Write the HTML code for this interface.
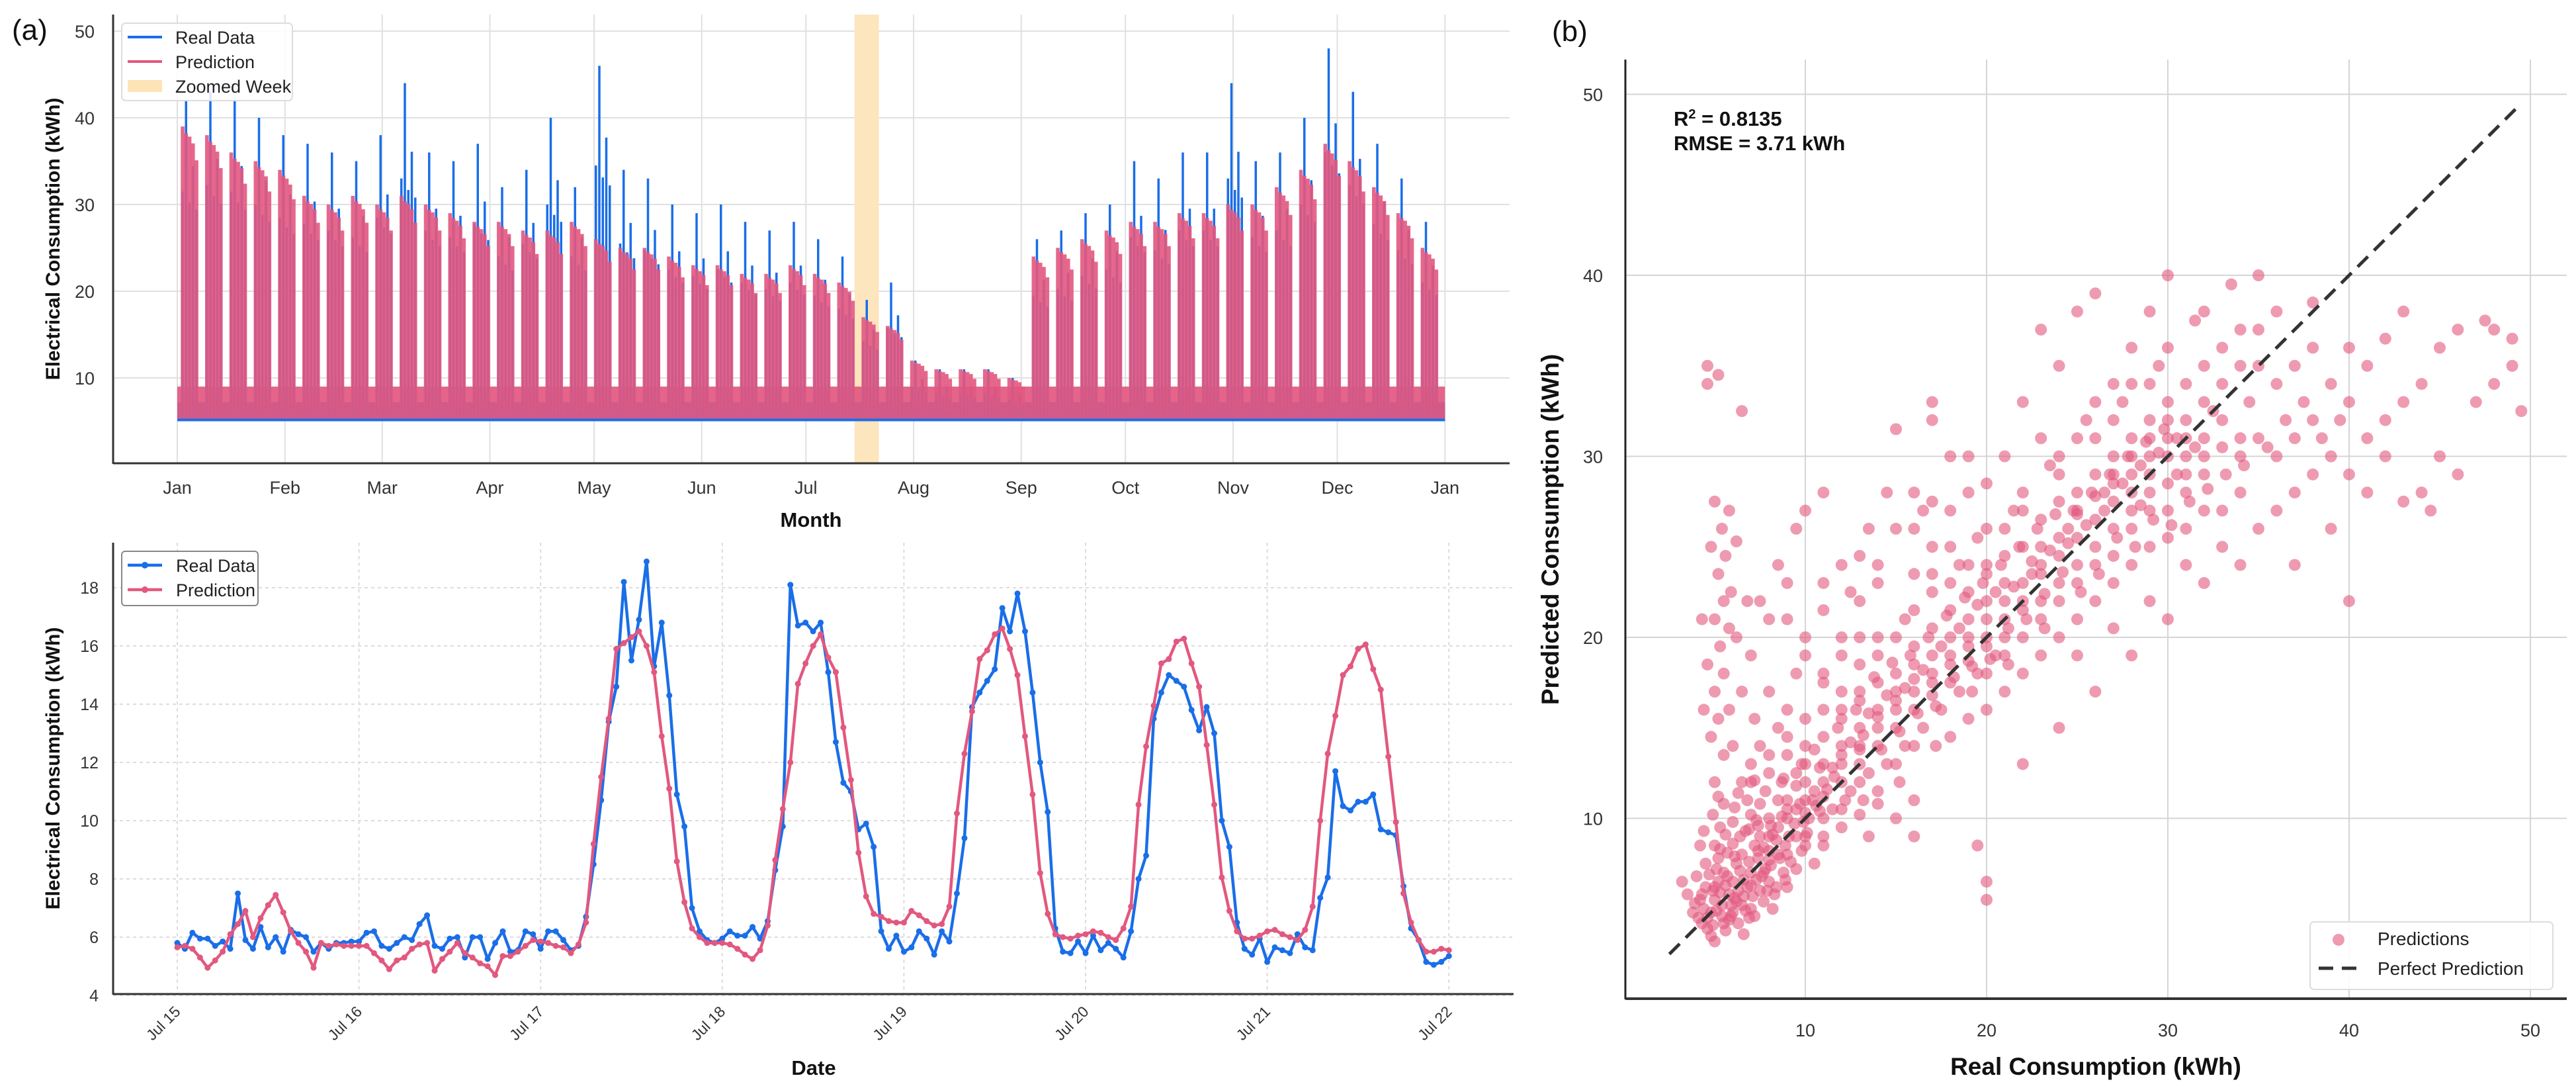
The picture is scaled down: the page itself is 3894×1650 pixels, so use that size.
<!DOCTYPE html>
<html><head><meta charset="utf-8"><style>
html,body{margin:0;padding:0;background:#fff;}
svg{display:block;font-family:"Liberation Sans",Arial,sans-serif;}
</style></head><body>
<svg id="fig" xmlns="http://www.w3.org/2000/svg" width="3894" height="1650" viewBox="0 0 3894 1650">
<rect x="0" y="0" width="3894" height="1650" fill="#fff"/>
<text x="18" y="60" font-size="44" fill="#111">(a)</text>
<text x="2346" y="62" font-size="44" fill="#111">(b)</text>
<g id="gTop"></g>
<g id="gBot"></g>
<g id="gSc"></g>
</svg>
<script>
// ===== Top panel data (weekly peaks, kWh) =====
const monthLabels=["Jan","Feb","Mar","Apr","May","Jun","Jul","Aug","Sep","Oct","Nov","Dec","Jan"];
const monthStartDays=[0,31,59,90,120,151,181,212,243,273,304,334,365];
const topYTicks=[10,20,30,40,50];
const weeklyPredPeak=[39,38,36,35,34,31,30,31,30,31,30,29,28,28,27,27,28,26,25,25,24,23,23,22,22,23,22,21,17,16,12,11,11,11,10,24,25,26,27,28,28,29,29,30,30,32,34,37,35,32,29,25];
const weeklyRealPeak=[42,43,42,40,38,37,36,35,38,44,36,35,37,32,34,40,32,46,34,33,30,29,30,28,27,28,26,24,19,21,12,11,11,11,10,26,27,29,30,35,33,36,36,44,35,36,40,48,43,37,33,28];
const predDayFactor=[1.0,0.98,0.97,0.95,0.9];
const realDayFactor=[0.75,1.0,0.72,0.82,0.7];
const zoomWeek=[195,202];
// ===== Week panel data (hourly kWh, Jul 15 00:00 .. Jul 22 00:00) =====
const weekDayLabels=["Jul 15","Jul 16","Jul 17","Jul 18","Jul 19","Jul 20","Jul 21","Jul 22"];
const weekYTicks=[4,6,8,10,12,14,16,18];
const weekReal=[
5.8,5.6,6.15,5.95,5.95,5.7,5.85,5.6,7.5,5.9,5.6,6.35,5.65,6.0,5.5,6.25,6.1,6.0,5.5,5.8,5.6,5.8,5.8,5.85,
5.85,6.15,6.2,5.7,5.6,5.8,6.0,5.9,6.45,6.75,5.7,5.6,5.95,6.0,5.3,6.0,6.0,5.25,5.8,6.2,5.5,5.55,6.2,6.1,
5.6,6.2,6.2,5.9,5.55,5.7,6.7,8.5,10.7,13.4,14.6,18.2,15.5,16.9,18.9,15.3,16.8,14.3,10.9,9.8,7.0,6.2,5.9,5.8,
5.95,6.2,6.05,6.05,6.35,5.95,6.55,8.3,9.8,18.1,16.7,16.8,16.5,16.8,15.1,12.7,11.3,11.0,9.7,9.9,9.1,6.2,5.6,6.05,
5.5,5.65,6.2,5.95,5.4,6.2,5.85,7.5,9.4,13.9,14.4,14.8,15.2,17.3,16.5,17.8,16.5,14.4,12.0,10.3,6.3,5.5,5.45,5.85,
5.45,6.05,5.55,5.8,5.6,5.3,6.2,8.0,8.8,13.5,14.4,15.0,14.8,14.6,13.8,13.1,13.9,13.0,10.0,9.1,6.5,5.6,5.4,5.95,
5.15,5.65,5.55,5.45,6.1,5.65,5.55,7.35,8.05,11.7,10.5,10.35,10.65,10.65,10.9,9.7,9.6,9.5,7.75,6.3,5.9,5.15,5.05,5.15,
5.35];
const weekPred=[
5.65,5.7,5.6,5.3,4.95,5.2,5.5,6.1,6.45,6.9,6.0,6.65,7.1,7.45,6.85,6.2,5.8,5.5,4.95,5.8,5.7,5.75,5.7,5.7,
5.7,5.7,5.45,5.2,4.9,5.2,5.3,5.6,5.75,5.8,4.85,5.25,5.5,5.8,5.45,5.3,5.1,5.0,4.7,5.35,5.35,5.5,5.7,5.9,
5.85,5.8,5.7,5.65,5.45,5.75,6.5,9.2,11.5,13.5,15.9,16.1,16.3,16.5,16.0,15.1,12.9,11.1,8.6,7.2,6.3,6.0,5.8,5.8,
5.8,5.75,5.6,5.4,5.25,5.55,6.4,8.65,10.4,12.0,14.7,15.4,16.0,16.4,15.6,15.1,13.2,11.4,8.9,7.4,6.8,6.7,6.55,6.5,
6.5,6.9,6.75,6.55,6.4,6.45,7.05,10.25,12.3,13.75,15.55,15.85,16.4,16.6,15.9,15.0,12.9,10.9,8.2,6.8,6.1,6.0,5.95,6.05,
6.1,6.2,6.15,6.0,5.9,6.3,7.05,10.55,12.55,13.95,15.4,15.55,16.15,16.25,15.4,14.6,12.6,10.55,8.05,6.9,6.2,5.95,5.95,6.05,
6.2,6.25,6.1,6.0,5.9,6.25,7.05,10.0,12.3,13.6,15.0,15.3,15.9,16.05,15.2,14.5,12.2,9.95,7.5,6.5,5.9,5.5,5.5,5.6,
5.55];
// ===== Scatter data (real, predicted) =====
const scTicks=[10,20,30,40,50];
const scPairs=[[4.2,5.5],[4.5,6.2],[4.8,4.8],[5,5.5],[5.2,6.5],[5.5,4.2],[5.5,7],[5.8,5.8],[6,6.5],[6,4.8],[6.2,7.5],[6.5,5.2],[6.5,8],[6.8,6.2],[7,7],[7,5],[7.2,8.5],[7.5,6],[7.5,9],[7.8,7.2],[8,6.5],[8,8.2],[8.3,5.8],[8.5,9.5],[8.8,7],[9,8],[9,6.2],[9.5,9],[4.5,7.5],[5,8.5],[5.3,9.5],[4.8,3.5],[5.6,3.8],[6.3,4.2],[7.2,4.6],[8.2,5],[9.5,7.2],[10,8.5],[10.5,7.5],[11,9],[6,9.8],[7,10.2],[8,10],[9,10.5],[6.8,11],[5.5,10.8],[4.6,4.5],[5.1,4.9],[5.9,5.2],[6.6,5.7],[7.3,6.6],[7.9,6],[8.6,7.8],[4,6.8],[3.5,5.8],[3.2,6.5],[4.2,8.5],[5,3.2],[9.8,8.2],[10.2,10],
[4.4,5],[4.9,6],[5.4,5.2],[5.7,6.8],[6.1,5.6],[6.4,7.1],[6.9,4.5],[7.4,7.8],[7.7,5.4],[8.1,7.4],[8.4,8.8],[8.9,6.6],[5.2,7.8],[6,8.6],[6.7,9.3],[7.4,9.6],[4.3,4.2],[5.8,4.4],[3.8,4.8],[6.6,3.6],
[5,12],[5.5,13.5],[4.8,14.5],[5.2,15.5],[5.8,16],[5,17],[5.5,18],[4.6,18.5],[5.3,19.5],[5.8,20.5],[5,21],[5.5,22],[5.9,22.5],[5.2,23.5],[5.6,24.5],[4.8,25],[5.4,26],[5.8,27],[5,27.5],[4.6,34],[4.6,35],[5.2,34.5],[6.5,32.5],[6.2,25.3],[6.8,22],[7,19],[6.5,17],[7.2,15.5],[4.3,21],[4.4,16],[6,14],[6.2,20],
[10,10.3],[11,10],[12,10.5],[13,10.2],[14,10.8],[15,10],[16,11],[12,9.5],[13.5,9],
[9,11],[9.5,12.5],[10,13],[10,9],[10.5,11.5],[11,12],[11,14.5],[11.5,10.5],[12,13],[12,15.5],[12.5,11.5],[13,14],[13,16.5],[13.5,12.5],[14,15],[14,17.5],[14.5,13],[15,16],[15,18],[15.5,14],[16,17],[16,19.5],[16.5,15],[17,18],[17,20.5],[17.5,16],[18,19],[18,21.5],[18.5,17],[19,20],[19,22.5],[19.5,18],[20,21],[20,23.5],[20,16],[11,8.5],[12,20],[13,22],[14,24],[15,26],[16,28],[17,25],[18,27],[19,30],[20,26],[12.5,22.5],[10,20],[9,21],[11,23],[15,31.5],[17,32],[20,5.5],[20,6.5],[19.5,8.5],[16,9],[15,13],[13,12],[14,11.5],[16,14],[18,14.5],[19,15.5],[20,18],[17,22.5],[16,23.5],[14,20],[13,18.5],[12,17],[11,16],[10,15.5],[18.5,24],[19.5,25.5],[13.5,26],[14.5,28],[16.5,27],[18,30],[15.5,21],
[21,20],[21,23],[21,17],[22,21.5],[22,25],[22,18],[23,22],[23,26.5],[23,19],[24,23],[24,27.5],[24,20],[25,24],[25,28],[25,21],[26,25],[26,29],[26,22],[27,26],[27,30],[27,23],[28,27],[28,31],[28,24],[29,28],[29,32],[29,25],[30,28.5],[30,33],[30,25.5],[31,29],[31,34],[31,26],[32,30],[32,35],[32,27],[33,30.5],[33,36],[33,27],[34,31],[34,37],[34,28],[35,31],[35,35],[35,26],[21,30],[22,33],[23,37],[24,35],[25,38],[26,39],[27,34],[28,36],[29,38],[30,40],[24,15],[26,17],[28,19],[30,21],[32,23],[34,24],[22,13],[25,19],[27,20.5],[29,22],[31,24],[33,25],[21.5,27],[23.5,29.5],[25.5,32],[27.5,33],[29.5,35],[31.5,37.5],[33.5,39.5],[35,40],[20.5,19],[22.5,23.5],[24.5,26],[26.5,27],[28.5,29.5],[30.5,31],[32.5,32.5],[34.5,33],
[36,30],[36,34],[36,27],[37,31],[37,35],[37,28],[38,32],[38,36],[38,29],[39,30],[39,34],[40,33],[40,36],[40,29],[41,31],[41,35],[42,32],[42,36.5],[43,33],[43,38],[44,28],[44,34],[45,36],[45,30],[46,37],[47,33],[48,37],[49,35],[49.5,32.5],[49,36.5],[43,27.5],[41,28],[40,22],[39,26],[37,24],[44.5,27],[42,30],[36,38],[38,38.5],[46,29],[47.5,37.5],[48,34],
[15,17],[16,16],[17,17.5],[18,18.5],[19,19.5],[20,20],[21,21],[22,22],[23,23.5],[24,24.5],[25,25.5],[26,26.5],[27,27.5],[28,28],[29,29],[30,30],[21,19],[22,20],[23,21],[24,22],[25,23],[26,24],[27,24.5],[28,26],[29,27],[30,27],[31,28],[32,29],[16,18.5],[17,19],[18,20],[19,21],[20,22],[14,16],[13,15],[12,14],[11,13],[10,12],[9,10],[8,9],[12,12],[13,13],[14,14],[15,15],[10,11],[11,11.2],[9.5,10.5],[8.5,11],[7.5,10.8],[6.5,12],[7,13],[8,12.5],[9,13.5],[7.5,14],[8.5,15],[9,16],[8,17],[9.5,18],[10,19],[11,18],[12,19],[13,20],[11,21.5],[12,24],[9,23],[8,21],[7.5,22],[8.5,24],[10,27],[9.5,26],[11,28],[17,33],[13,24.5],[14,23],[16,26],[17,27.5],[18,25],[19,28],[20,28.5],[21,26],[22,28],[23,31],[24,30],[25,31],[26,33],[27,32],[28,34],[29,31],[30,36],[31,32],[32,38],[33,34],[34,35],[35,37],[32,33],[31,31],[30,32],[28,30],[29,34],[27,29],[26,31],[25,27],[24,29],[23,25],[22,27],[21,24.5],[20,24],[19,24],[18,23],[17,23.5],[16,21.5],[15,20],[14,19],[13,17],[12,16],[11,17.5],[10,14],[9,14.5],[8,13.5],[7,12],
[12.5,14.2],[13.5,15.8],[14.5,16.8],[15.5,17.2],[16.5,18.2],[17.5,19.5],[18.5,20.5],[19.5,21.8],[20.5,22.5],[21.5,22.8],[22.5,24.2],[23.5,24.8],[24.5,25.2],[25.5,26.2],[26.5,28],[27.5,28.5],[28.5,27.3],[29.5,30.2],[30.5,29],[31.5,30.5],[11.5,12.8],[10.5,13.8],[9.5,11.8],[8.8,12.2],[13.2,11],[15.2,12],[17.2,14],[19.2,17],[21.2,18.5],[23.2,20.5],
[4.1,4.5],[4.3,5.8],[4.7,6.9],[4.9,4.1],[5.1,7.2],[5.3,5.9],[5.6,6.3],[5.7,8.1],[5.9,4.6],[6.1,7.9],[6.3,6],[6.4,9],[6.7,4.9],[6.9,7.6],[7.1,5.7],[7.3,9.9],[7.6,6.8],[7.7,8.4],[8,7.7],[8.2,9.1],[8.4,6.2],[8.7,10.1],[8.9,8.5],[9.2,7.6],[9.4,9.7],[9.7,10.8],[10.1,9.2],[10.4,11],[10.8,10.4],[11.2,11.6],[11.6,12.3],[12.2,11],[4.4,9.3],[4.9,10.2],[5.6,9.1],[6.1,10.6],[6.9,9.4],[7.8,11.5],[8.7,12],[3.9,5.3],[4.6,3.9],[5.4,4.6],[6.2,5.4],[7,6.3],[7.7,7],[8.5,8],[9.1,9],[9.9,9.8],[10.6,10.7],[5,6.2],[5.3,8.3],[6.6,6.6],[7.4,8.2],[8.1,9.6],[6.3,11.4],[7.2,12.1],[5.2,11.2],
[12,13.5],[13,13.8],[14,15.6],[15,16.5],[16,17.7],[17,16.8],[18,17.5],[19,18.7],[20,19.5],[21,22],[22,23],[23,24],[24,25.5],[25,26.8],[26,27.8],[27,28.5],[28,29],[29,30],[30,31],[31,30],[32,31],[33,32],[34,30],[12.8,16],[13.8,17.8],[14.8,18.6],[15.8,19],[16.8,20],[17.8,21.2],[18.8,22.2],[19.8,23],[20.8,24],[21.8,25],[22.8,26],[23.8,26.8],[24.8,27],[25.8,28],[26.8,29],[27.8,30],[28.8,30.8],[29.8,31.5],[11.8,15],[10.8,12.8],[9.8,13],[13.2,14.6],[14.2,13.8],[15.2,14.8],[16.2,15.8],[17.2,16.2],[18.2,17.8],[19.2,18.4],[20.2,18.8],[21.2,20.5],[22.2,21],[23.2,22.4],[24.2,23.6],[25.2,22.5],[26.2,23.5],[27.2,25.5],[28.2,25],[29.2,26.5],[30.2,26.2],[31.2,27.5],[32.2,28.2],[33.2,29],[34.2,29.5],[35.5,30.5],[36.5,32],[37.5,33],[38.5,31],[39.5,32]];
const scatterReal=scPairs.map(p=>p[0]);
const scatterPred=scPairs.map(p=>p[1]);

const NS="http://www.w3.org/2000/svg";
function mk(tag,attrs,parent){const e=document.createElementNS(NS,tag);for(const k in attrs)e.setAttribute(k,attrs[k]);parent.appendChild(e);return e;}
const BLUE="#1a6ee8",PINK="#e2587f";

// ---------- TOP PANEL ----------
const gT=document.getElementById('gTop');
const xT=d=>268+d*5.25, yT=v=>702-v*13.1;
const TL=171,TR=2282,TTop=22,TB=700;
topYTicks.forEach(v=>{
  const l=mk('line',{x1:TL,x2:TR,y1:yT(v),y2:yT(v),stroke:'#e0e0e0','stroke-width':2},gT);
  
  
  const t=mk('text',{x:143,y:yT(v)+10,'font-size':27,fill:'#333','text-anchor':'end'},gT);t.textContent=v;
  
  
});
monthStartDays.forEach((d,i)=>{
  const l=mk('line',{x1:xT(d),x2:xT(d),y1:TTop,y2:TB,stroke:'#e0e0e0','stroke-width':2},gT);
  
  
  const t=mk('text',{x:xT(d),y:746,'font-size':27,fill:'#333','text-anchor':'middle'},gT);t.textContent=monthLabels[i];
  
  
});
const zb=mk('rect',{x:xT(zoomWeek[0]),y:TTop,width:xT(zoomWeek[1])-xT(zoomWeek[0]),height:TB-TTop,fill:'#fde5bd'},gT);


const bb=mk('rect',{x:xT(0),y:yT(7.2),width:xT(365)-xT(0),height:yT(5.0)-yT(7.2),fill:BLUE},gT);


const pb=mk('rect',{x:xT(0),y:yT(9),width:xT(365)-xT(0),height:yT(5.3)-yT(9),fill:PINK,opacity:0.92},gT);


for(let day=1;day<365;day++){
  const k=(day-1)%7; const w=Math.floor((day-1)/7);
  if(k>4||w>=weeklyPredPeak.length) continue;
  const rv=weeklyRealPeak[w]*realDayFactor[k], pv=weeklyPredPeak[w]*predDayFactor[k];
  const rb=mk('rect',{x:xT(day)+1,y:yT(rv),width:3.5,height:yT(6)-yT(rv),fill:BLUE},gT);
  
  
  const pr=mk('rect',{x:xT(day),y:yT(pv),width:5.6,height:yT(6)-yT(pv),fill:PINK,opacity:0.9},gT);
  
  
}
mk('line',{x1:TL,x2:TL,y1:TTop,y2:TB+1,stroke:'#333','stroke-width':3},gT);
mk('line',{x1:TL,x2:TR,y1:TB,y2:TB,stroke:'#333','stroke-width':3},gT);
let t1=mk('text',{x:0,y:0,'font-size':30,'font-weight':'bold',fill:'#111','text-anchor':'middle',transform:'translate(90,361) rotate(-90)'},gT);t1.textContent='Electrical Consumption (kWh)';


let t2=mk('text',{x:1226,y:796,'font-size':31,'font-weight':'bold',fill:'#111','text-anchor':'middle'},gT);t2.textContent='Month';


const lg=mk('g',{},gT);


mk('rect',{x:184,y:35,width:258,height:117,rx:6,fill:'#fff','fill-opacity':0.85,stroke:'#ddd','stroke-width':2},lg);
mk('line',{x1:193,x2:245,y1:56,y2:56,stroke:BLUE,'stroke-width':4},lg);
mk('line',{x1:193,x2:245,y1:93,y2:93,stroke:PINK,'stroke-width':4},lg);
mk('rect',{x:193,y:121,width:52,height:18,fill:'#fde3b5'},lg);
[['Real Data',66],['Prediction',103],['Zoomed Week',140]].forEach(([s,y])=>{const t=mk('text',{x:265,y:y,'font-size':27,fill:'#222'},lg);t.textContent=s;
 
 });

// ---------- BOTTOM PANEL ----------
const gB=document.getElementById('gBot');
const xB=h=>268+h*274.6/24, yB=v=>1504-(v-4)*44;
const BL=171,BR=2288,BTop=820,BBot=1502;
weekYTicks.forEach(v=>{
  const l=mk('line',{x1:BL,x2:BR,y1:yB(v),y2:yB(v),stroke:'#dcdcdc','stroke-width':2,'stroke-dasharray':'5,5'},gB);
  
  
  const t=mk('text',{x:149,y:yB(v)+9,'font-size':25,fill:'#333','text-anchor':'end'},gB);t.textContent=v;
  
  
});
weekDayLabels.forEach((s,i)=>{
  const x=xB(i*24);
  const l=mk('line',{x1:x,x2:x,y1:BTop,y2:BBot,stroke:'#dcdcdc','stroke-width':2,'stroke-dasharray':'5,5'},gB);
  
  
  const t=mk('text',{x:0,y:0,'font-size':23,fill:'#333','text-anchor':'end',transform:`translate(${x+6},${1530}) rotate(-45)`},gB);t.textContent=s;
  
  
});
function series(vals,color,name){
  const pts=vals.map((v,i)=>xB(i).toFixed(1)+','+yB(v).toFixed(1)).join(' ');
  const pl=mk('polyline',{points:pts,fill:'none',stroke:color,'stroke-width':4.5,'stroke-linejoin':'round'},gB);
  
  
  vals.forEach((v,i)=>{const c=mk('circle',{cx:xB(i),cy:yB(v),r:4.5,fill:color},gB);
    
    });
}
series(weekReal,BLUE,'real-data');
series(weekPred,PINK,'prediction');
mk('line',{x1:BL,x2:BL,y1:BTop,y2:BBot+1,stroke:'#333','stroke-width':3},gB);
mk('line',{x1:BL,x2:BR,y1:BBot,y2:BBot,stroke:'#333','stroke-width':3},gB);
let t3=mk('text',{x:0,y:0,'font-size':30,'font-weight':'bold',fill:'#111','text-anchor':'middle',transform:'translate(90,1161) rotate(-90)'},gB);t3.textContent='Electrical Consumption (kWh)';


let t4=mk('text',{x:1230,y:1624,'font-size':31,'font-weight':'bold',fill:'#111','text-anchor':'middle'},gB);t4.textContent='Date';


const lg2=mk('g',{},gB);


mk('rect',{x:184,y:833,width:206,height:82,rx:5,fill:'#fff',stroke:'#888','stroke-width':2},lg2);
[[BLUE,854,'Real Data'],[PINK,891,'Prediction']].forEach(([c,y,s])=>{
  mk('line',{x1:193,x2:245,y1:y,y2:y,stroke:c,'stroke-width':4.5},lg2);
  mk('circle',{cx:219,cy:y,r:5,fill:c},lg2);
  const t=mk('text',{x:266,y:y+10,'font-size':27,fill:'#222'},lg2);t.textContent=s;
  
  
});

// ---------- SCATTER ----------
const gS=document.getElementById('gSc');
const xS=v=>2455+v*27.4, yS=v=>1510-v*27.35;
const SL=2457,SR=3880,STop=90,SB=1509;
scTicks.forEach(v=>{
  const a=mk('line',{x1:SL,x2:SR,y1:yS(v),y2:yS(v),stroke:'#d5d5d5','stroke-width':2},gS);
  
  
  const b=mk('line',{x1:xS(v),x2:xS(v),y1:STop,y2:SB,stroke:'#d5d5d5','stroke-width':2},gS);
  
  
  const t=mk('text',{x:2423,y:yS(v)+10,'font-size':27,fill:'#333','text-anchor':'end'},gS);t.textContent=v;
  
  
  const u=mk('text',{x:xS(v),y:1566,'font-size':27,fill:'#333','text-anchor':'middle'},gS);u.textContent=v;
  
  
});
scatterReal.forEach((rx,i)=>{
  const c=mk('circle',{cx:xS(rx),cy:yS(scatterPred[i]),r:9,fill:'#e2587f','fill-opacity':0.6},gS);
  
  
});
const dl=mk('line',{x1:xS(2.5),y1:yS(2.5),x2:xS(49.5),y2:yS(49.5),stroke:'#333','stroke-width':5,'stroke-dasharray':'22,13'},gS);


mk('line',{x1:SL,x2:SL,y1:STop,y2:SB+1,stroke:'#222','stroke-width':3},gS);
mk('line',{x1:SL,x2:SR,y1:SB,y2:SB,stroke:'#333','stroke-width':4},gS);
let t5=mk('text',{x:0,y:0,'font-size':37,'font-weight':'bold',fill:'#111','text-anchor':'middle',transform:'translate(2356,800) rotate(-90)'},gS);t5.textContent='Predicted Consumption (kWh)';


let t6=mk('text',{x:3168,y:1624,'font-size':37,'font-weight':'bold',fill:'#111','text-anchor':'middle'},gS);t6.textContent='Real Consumption (kWh)';


let t7=mk('text',{x:2530,y:190,'font-size':31,'font-weight':'bold',fill:'#111'},gS);t7.innerHTML='R<tspan baseline-shift="super" font-size="20">2</tspan> = 0.8135';


let t8=mk('text',{x:2530,y:227,'font-size':31,'font-weight':'bold',fill:'#111'},gS);t8.textContent='RMSE = 3.71 kWh';


const lg3=mk('g',{},gS);


mk('rect',{x:3492,y:1393,width:367,height:102,rx:6,fill:'#fff','fill-opacity':0.9,stroke:'#ddd','stroke-width':2},lg3);
mk('circle',{cx:3535,cy:1420,r:9,fill:'#e2587f','fill-opacity':0.6},lg3);
mk('line',{x1:3505,x2:3567,y1:1463,y2:1463,stroke:'#333','stroke-width':5,'stroke-dasharray':'22,13'},lg3);
[['Predictions',1428],['Perfect Prediction',1473]].forEach(([s,y])=>{const t=mk('text',{x:3594,y:y,'font-size':28,fill:'#222'},lg3);t.textContent=s;
 
 });
</script>
</body></html>
